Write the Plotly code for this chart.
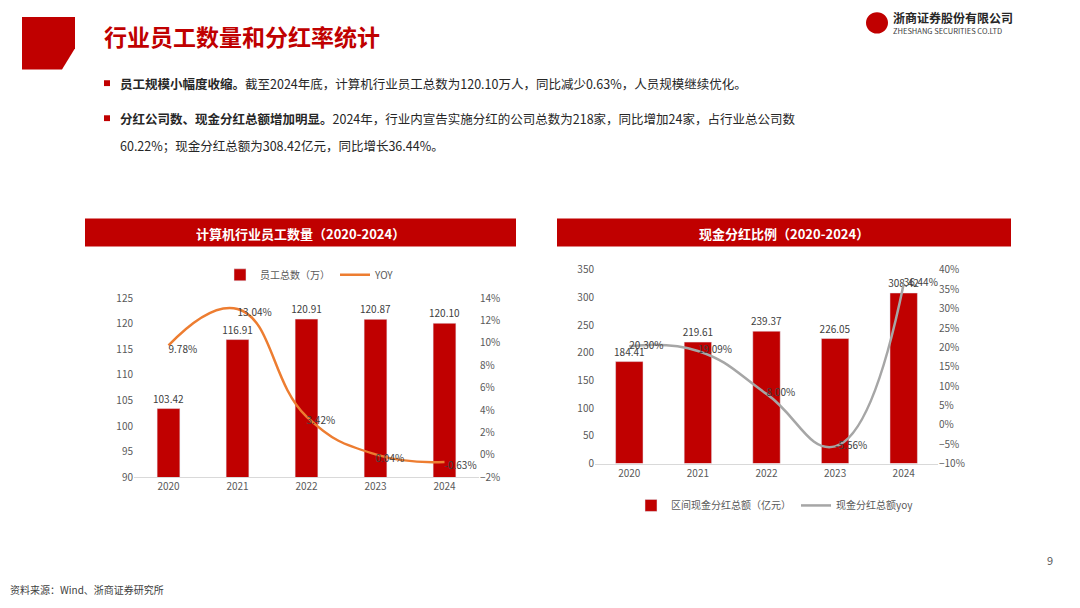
import plotly.graph_objects as go

years = ["2020", "2021", "2022", "2023", "2024"]
staff = [103.42, 116.91, 120.91, 120.87, 120.10]
staff_yoy = [9.78, 13.04, 3.42, 0.04, -0.63]
staff_yoy_lbl = ["9.78%", "13.04%", "3.42%", "0.04%", "-0.63%"]
div = [184.41, 219.61, 239.37, 226.05, 308.42]
div_yoy = [20.30, 19.09, 8.00, -5.56, 36.44]
div_yoy_lbl = ["20.30%", "19.09%", "8.00%", "-5.56%", "36.44%"]

RED = "#C00000"
FONT = "Noto Sans CJK SC"
TICK = dict(size=10, color="#595959", family=FONT)
W, H, OFF = 1064, 592, 8  # page has an 8px body margin


def px(x):
    return (x - OFF) / W


def py(y):
    return 1 - (y - OFF) / H


fig = go.Figure()

# left chart
fig.add_trace(go.Bar(x=years, y=staff, name="员工总数（万）", marker_color=RED, width=0.33,
                     text=[f"{v:.2f}" for v in staff], textposition="outside", constraintext="none",
                     textfont=dict(size=10, color="#404040"), cliponaxis=False,
                     xaxis="x", yaxis="y", legend="legend"))
fig.add_trace(go.Scatter(x=years, y=staff_yoy, name="YOY", mode="lines+text",
                         line=dict(color="#ED7D31", width=2.5, shape="spline", smoothing=1.3),
                         text=staff_yoy_lbl, textposition="bottom right",
                         textfont=dict(size=10, color="#404040"), cliponaxis=False,
                         xaxis="x", yaxis="y2", legend="legend"))

# right chart
fig.add_trace(go.Bar(x=years, y=div, name="区间现金分红总额（亿元）", marker_color=RED, width=0.4,
                     text=[f"{v:.2f}" for v in div], textposition="outside", constraintext="none",
                     textfont=dict(size=10, color="#404040"), cliponaxis=False,
                     xaxis="x3", yaxis="y3", legend="legend2"))
fig.add_trace(go.Scatter(x=years, y=div_yoy, name="现金分红总额yoy", mode="lines+text",
                         line=dict(color="#A6A6A6", width=2.5, shape="spline", smoothing=1.3),
                         text=div_yoy_lbl, textposition="middle right",
                         textfont=dict(size=10, color="#404040"), cliponaxis=False,
                         xaxis="x3", yaxis="y4", legend="legend2"))

fig.update_layout(
    width=W, height=H, margin=dict(l=0, r=0, t=0, b=0),
    paper_bgcolor="white", plot_bgcolor="white", font=dict(family=FONT),
    barmode="overlay",
    xaxis=dict(domain=[px(134), px(479)], tickfont=TICK, showline=True, linecolor="#D9D9D9",
               anchor="y", ticks=""),
    yaxis=dict(domain=[py(481), py(297)], range=[90, 125], dtick=5, tickfont=TICK,
               showgrid=False, zeroline=False),
    yaxis2=dict(overlaying="y", side="right", anchor="x", range=[-2, 14], dtick=2,
                ticksuffix="%", tickfont=TICK, showgrid=False, zeroline=False),
    xaxis3=dict(domain=[px(595), px(938)], tickfont=TICK, showline=True, linecolor="#D9D9D9",
                anchor="y3", ticks=""),
    yaxis3=dict(domain=[py(467), py(268)], range=[0, 350], dtick=50, tickfont=TICK,
                showgrid=False, zeroline=False, anchor="x3"),
    yaxis4=dict(overlaying="y3", side="right", anchor="x3", range=[-10, 40], dtick=5,
                ticksuffix="%", tickfont=TICK, showgrid=False, zeroline=False),
    legend=dict(orientation="h", x=px(310), xanchor="center", y=py(273), yanchor="middle",
                font=dict(size=10, color="#595959"), bgcolor="rgba(0,0,0,0)"),
    legend2=dict(orientation="h", x=px(775), xanchor="center", y=py(510), yanchor="middle",
                 font=dict(size=10, color="#595959"), bgcolor="rgba(0,0,0,0)"),
)


def rect(x0, x1, y0, y1, kind="rect"):
    return dict(type=kind, xref="paper", yref="paper", x0=px(x0), x1=px(x1),
                y0=py(y1), y1=py(y0), fillcolor=RED, line_width=0)


shapes = [
    dict(type="path", xref="paper", yref="paper", fillcolor=RED, line_width=0,
         path=f"M {px(22)} {py(8)} L {px(75)} {py(8)} L {px(75)} {py(40)} L {px(62)} {py(62)} L {px(22)} {py(62)} Z"),
    rect(85, 516, 215, 244),
    rect(557, 1011, 215, 244),
    rect(104, 110, 73, 79),
    rect(104, 110, 109, 115),
    rect(866, 888, 3, 25, "circle"),
]
fig.update_layout(shapes=shapes)


def txt(x, y, s, size=13, color="#262626", anchor="left", bold=False):
    if bold:
        s = f"<b>{s}</b>"
    fig.add_annotation(x=px(x), y=py(y), xref="paper", yref="paper", text=s,
                       showarrow=False, xanchor=anchor, yanchor="middle",
                       font=dict(size=size, color=color, family=FONT), align="left")


txt(102, 28, "行业员工数量和分红率统计", size=23, color=RED, bold=True)
txt(891, 9, "浙商证券股份有限公司", size=12, color="#262626", bold=True)
txt(891, 22, "ZHESHANG SECURITIES CO.LTD", size=7.5, color="#404040")
txt(118, 76, "<b>员工规模小幅度收缩。</b>截至2024年底，计算机行业员工总数为120.10万人，同比减少0.63%，人员规模继续优化。", size=12.5)
txt(118, 112, "<b>分红公司数、现金分红总额增加明显。</b>2024年，行业内宣告实施分红的公司总数为218家，同比增加24家，占行业总公司数", size=12.5)
txt(118, 140, "60.22%；现金分红总额为308.42亿元，同比增长36.44%。", size=12.5)
txt(300, 230, "计算机行业员工数量（2020-2024）", size=13, color="white", anchor="center", bold=True)
txt(784, 230, "现金分红比例（2020-2024）", size=13, color="white", anchor="center", bold=True)
txt(1055, 566, "9", size=11, color="#595959", anchor="right")
txt(8, 596, "资料来源：Wind、浙商证券研究所", size=10, color="#404040")

fig.write_html("out.html")
